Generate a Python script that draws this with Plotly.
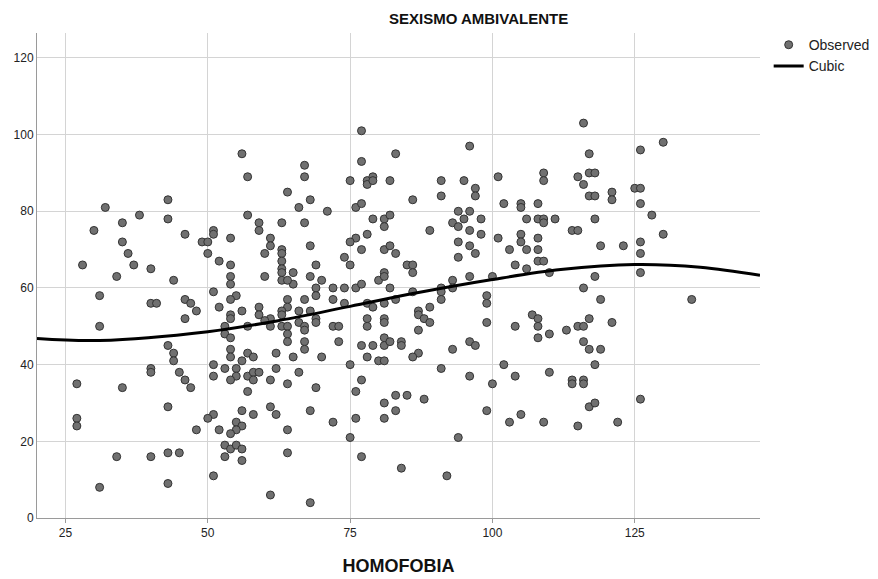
import plotly.graph_objects as go

# Observed points (HOMOFOBIA, SEXISMO AMBIVALENTE)
homofobia = [
    32,43,30,35,38,43,46,49,35,36,28,37,40,34,44,31,40,41,46,47,48,46,
    31,43,44,44,40,40,45,46,47,27,35,43,27,27,48,34,40,43,45,31,43,
    56,57,64,66,57,59,59,63,51,51,50,54,61,61,60,63,63,63,63,63,63,65,65,64,50,52,54,54,54,60,51,55,54,52,56,54,54,59,59,64,64,63,63,61,
    60,61,63,64,66,57,53,53,54,64,64,54,54,57,58,56,62,65,51,51,53,55,55,54,57,58,59,58,62,61,66,64,57,56,61,62,58,51,50,52,55,56,55,54,64,53,54,55,56,53,56,64,51,61,
    77,83,77,67,67,75,78,78,79,79,82,68,71,67,76,77,79,81,82,81,68,76,75,78,77,81,82,83,74,75,69,68,70,69,69,67,68,72,74,72,76,77,74,78,79,80,81,81,82,81,83,66,
    67,67,69,69,72,73,67,67,73,70,78,78,81,81,77,79,81,81,82,78,80,81,75,77,69,76,83,81,83,68,76,81,72,75,77,84,68,
    96,91,95,97,97,91,101,86,94,96,95,98,93,94,89,96,98,101,94,96,97,94,85,86,86,86,91,91,91,93,93,96,100,99,99,89,87,
    99,87,88,89,87,84,84,87,86,93,96,97,91,96,100,85,88,99,94,92,
    116,117,109,109,115,116,117,118,117,118,102,105,105,108,106,108,109,109,111,118,114,115,105,105,108,103,106,108,119,104,106,108,109,110,118,116,119,
    107,108,104,108,108,110,113,115,116,117,116,117,102,118,104,110,114,114,116,116,117,118,103,105,109,115,
    130,126,125,126,121,121,126,128,130,123,126,126,126,135,
    121,119,126,122,
]
sexismo = [
    81,83,75,77,79,78,74,72,72,69,66,66,65,63,62,58,56,56,57,56,54,52,
    50,45,43,41,39,38,38,36,34,35,34,29,26,24,23,16,16,17,17,8,9,
    95,89,85,81,79,77,75,77,75,74,72,73,73,71,69,70,69,67,65,64,62,64,61,62,69,67,66,63,61,63,59,58,57,55,54,53,52,55,53,57,55,54,53,52,
    51.5,50,50,50,51,50,50,48,47,48,46,44,42,43,42,41,43,42,40,37,39,39,37,36,37,38,38,36,39,36,38,35,33,28,29,27,27,27,26,23,25,24,23,22,23,19,18,19,18,16,15,17,11,6,
    101,95,93,92,89,88,88,87,89,88,88,83,80,77,81,82,78,78,79,76,71,73,72,74,70,70,71,69,68,66,66,63,62,60,58,57,54,60,60,57,60,61,56,56,55,62,64,63,60,56,57,54,
    50,49,52,51,50,50,46,44,46,42,52,50,52,51,45,45,47,45,46,42,41,41,40,36,34,33,32,30,28,28,26,26,25,21,16,13,4,
    97,88,88,86,84,84,89,83,80,80,78,78,77,76,75,75,74,73,72,71,69,68,66,66,64,59,60,59,57,62,60,63,63,58,56,55,54,
    51,53,52,51,49,46,45,43,42,44,46,45,39,37,35,32,31,28,21,11,
    103,95,90,88,89,87,90,90,84,84,82,82,81,82,78,78,78,77,78,78,75,75,74,72,73,70,70,70,71,66,65,67,67,64,63,60,57,
    53,52,50,50,47,48,49,50,50,52,46,44,40,40,37,38,36,35,36,35,29,30,25,27,25,24,
    98,96,86,86,85,83,82,79,74,71,72,69,64,57,
    51,44,31,25,
]

# Cubic fit line
cubic_x = [20, 31, 50, 62.5, 75, 87, 100, 112, 125, 136.5, 147]
cubic_y = [46.8, 46.3, 48.6, 51.5, 55.2, 58.8, 62.2, 64.8, 66.1, 65.4, 63.3]

x_ticks = [25, 50, 75, 100, 125]
y_ticks = [0, 20, 40, 60, 80, 100, 120]

fig = go.Figure()
fig.add_trace(go.Scatter(
    x=homofobia, y=sexismo, mode="markers", name="Observed",
    marker=dict(size=8, color="#707070", line=dict(color="#333333", width=1)),
))
fig.add_trace(go.Scatter(
    x=cubic_x, y=cubic_y, mode="lines", name="Cubic",
    line=dict(color="black", width=3, shape="spline"),
))

fig.update_layout(
    width=878, height=579,
    margin=dict(l=29, r=126, t=25, b=69, autoexpand=False),
    paper_bgcolor="white", plot_bgcolor="white",
    font=dict(family="Liberation Sans, Arial, sans-serif", size=12, color="#222222"),
    showlegend=True,
    legend=dict(x=1.012, y=1.008, xanchor="left", yanchor="top",
                font=dict(size=14, color="#222222"), tracegroupgap=0,
                bgcolor="rgba(0,0,0,0)", itemwidth=30),
    annotations=[
        dict(text="<b>SEXISMO AMBIVALENTE</b>", x=0.611, y=1.0, xref="paper", yref="paper",
             yshift=15, showarrow=False, font=dict(size=15, color="#111111"),
             xanchor="center", yanchor="middle"),
    ],
)
fig.update_xaxes(
    range=[20, 147], tickvals=x_ticks, showgrid=True, gridcolor="#d4d4d4", gridwidth=1,
    showline=True, linecolor="#9a9a9a", linewidth=1, zeroline=False,
    ticks="outside", ticklen=4, tickcolor="#9a9a9a", automargin=False,
    title=dict(text="<b>HOMOFOBIA</b>", font=dict(size=18, color="#111111"), standoff=19),
)
fig.update_yaxes(
    range=[0, 126.5], tickvals=y_ticks, showgrid=True, gridcolor="#d4d4d4", gridwidth=1,
    showline=True, linecolor="#9a9a9a", linewidth=1, zeroline=False,
    ticks="", automargin=False,
)

fig.write_html("out.html")
